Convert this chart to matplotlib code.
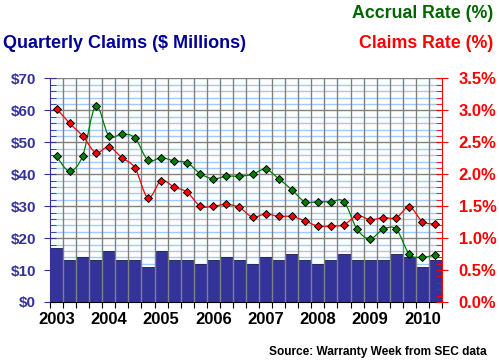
import matplotlib
matplotlib.use("Agg")
import matplotlib.pyplot as plt
from matplotlib.path import Path
from matplotlib.patches import PathPatch
import numpy as np

plt.rcParams['font.family'] = ['Liberation Sans', 'DejaVu Sans']
plt.rcParams['font.weight'] = 'bold'

# ---- data (quarterly, 2003 Q1 .. 2010 Q2) ----
years = ['2003', '2004', '2005', '2006', '2007', '2008', '2009', '2010']
claims = [17, 13, 14, 13, 16, 13, 13, 11, 16, 13, 13, 12, 13, 14, 13, 12,
          14, 13, 15, 13, 12, 13, 15, 13, 13, 13, 15, 14, 11, 13]
claims_rate = [3.03, 2.80, 2.60, 2.34, 2.43, 2.26, 2.10, 1.63, 1.90, 1.80,
               1.72, 1.50, 1.50, 1.53, 1.48, 1.33, 1.38, 1.34, 1.34, 1.27,
               1.19, 1.19, 1.21, 1.35, 1.29, 1.32, 1.32, 1.49, 1.26, 1.22]
accrual_rate = [2.28, 2.05, 2.29, 3.07, 2.60, 2.63, 2.57, 2.22, 2.26, 2.21,
                2.18, 2.01, 1.93, 1.97, 1.97, 2.00, 2.08, 1.93, 1.76, 1.57,
                1.57, 1.57, 1.57, 1.14, 0.99, 1.14, 1.14, 0.75, 0.70, 0.74]
left_ticks = [0, 10, 20, 30, 40, 50, 60, 70]
left_labels = ['$0', '$10', '$20', '$30', '$40', '$50', '$60', '$70']
right_ticks = [0, 0.5, 1.0, 1.5, 2.0, 2.5, 3.0, 3.5]
right_labels = ['0.0%', '0.5%', '1.0%', '1.5%', '2.0%', '2.5%', '3.0%', '3.5%']

BAR = '#333399'
LBLUE = '#333399'
TBLUE = '#000099'
RED = '#FF0000'
GREEN = '#008000'
TGREEN = '#006600'

W, H = 499, 364
fig = plt.figure(figsize=(W / 100, H / 100), dpi=100)
fig.patch.set_facecolor('white')
ax = fig.add_axes([50 / W, (H - 302) / H, 392 / W, 223.5 / H])
n = len(claims)
x = np.arange(n)
ax.set_xlim(-0.5, n - 0.5)
ax.set_ylim(0, 70)

# horizontal grid
for v in np.arange(2, 70, 2):
    if v % 10 == 0:
        continue
    ax.axhline(v, color='#99CCFF', lw=1.0, zorder=0)
for v in range(10, 71, 10):
    ax.axhline(v, color='#808080', lw=1.0, zorder=0.5)

ax.bar(x, claims, width=1.0, color=BAR, edgecolor='#1a1a4d', linewidth=0.6, zorder=1)
# vertical grid lines at quarter boundaries
for b in np.arange(0.5, n - 0.5, 1):
    ax.axvline(b, color='#808080', lw=1.0, zorder=1.5)

# spines
ax.spines['top'].set_visible(False)
ax.spines['right'].set_visible(False)
ax.spines['left'].set_color(LBLUE)
ax.spines['bottom'].set_color('black')

ax.set_yticks(left_ticks)
ax.set_yticklabels(left_labels, color=LBLUE, fontsize=11, fontweight='bold')
ax.set_yticks(np.arange(0, 71, 2), minor=True)
ax.tick_params(axis='y', which='major', direction='inout', length=8, color=LBLUE, pad=6)
ax.tick_params(axis='y', which='minor', direction='in', length=4, color=LBLUE)

ax.set_xticks(np.arange(-0.5, n, 1))
ax.set_xticklabels([])
ax.tick_params(axis='x', which='major', direction='out', length=4, color='black')
ax.set_xticks(np.arange(0, n, 4), minor=True)
ax.set_xticklabels(years, minor=True, fontsize=12, fontweight='bold')
ax.tick_params(axis='x', which='minor', length=0, pad=7)

ax2 = ax.twinx()
ax2.set_ylim(0, 3.5)
ax2.set_xlim(-0.5, n - 0.5)
for s in ['top', 'left', 'bottom']:
    ax2.spines[s].set_visible(False)
ax2.spines['right'].set_color(RED)
ax2.set_yticks(right_ticks)
ax2.set_yticklabels(right_labels, color=RED, fontsize=12, fontweight='bold')
ax2.set_yticks(np.arange(0, 3.51, 0.1), minor=True)
ax2.tick_params(axis='y', which='major', direction='inout', length=8, color=RED, pad=8)
ax2.tick_params(axis='y', which='minor', direction='in', length=4, color=RED)


def smooth_path(xs, ys):
    pts = np.column_stack([xs, ys]).astype(float)
    verts = [pts[0]]
    codes = [Path.MOVETO]
    m = len(pts)
    for i in range(m - 1):
        p0 = pts[i - 1] if i > 0 else pts[i]
        p1 = pts[i]
        p2 = pts[i + 1]
        p3 = pts[i + 2] if i + 2 < m else pts[i + 1]
        c1 = p1 + (p2 - p0) / 6.0
        c2 = p2 - (p3 - p1) / 6.0
        verts += [c1, c2, p2]
        codes += [Path.CURVE4] * 3
    return Path(verts, codes)


for vals, col in [(accrual_rate, GREEN), (claims_rate, RED)]:
    ax2.add_patch(PathPatch(smooth_path(x, vals), facecolor='none',
                            edgecolor=col, lw=0.9, zorder=3))
    ax2.plot(x, vals, linestyle='none', marker='D', markersize=4.3,
             markerfacecolor=col, markeredgecolor='black', markeredgewidth=0.7, zorder=4)

fig.text(493 / W, 1 - 13 / H, 'Accrual Rate (%)', color=TGREEN, fontsize=12.8,
         fontweight='bold', ha='right', va='center')
fig.text(493 / W, 1 - 43 / H, 'Claims Rate (%)', color=RED, fontsize=12.8,
         fontweight='bold', ha='right', va='center')
fig.text(3 / W, 1 - 43 / H, 'Quarterly Claims ($ Millions)', color=TBLUE, fontsize=13,
         fontweight='bold', ha='left', va='center')
fig.text(487 / W, 1 - 352 / H, 'Source: Warranty Week from SEC data', color='black',
         fontsize=8.6, fontweight='bold', ha='right', va='center')

fig.savefig('out.png', dpi=100, facecolor='white')
